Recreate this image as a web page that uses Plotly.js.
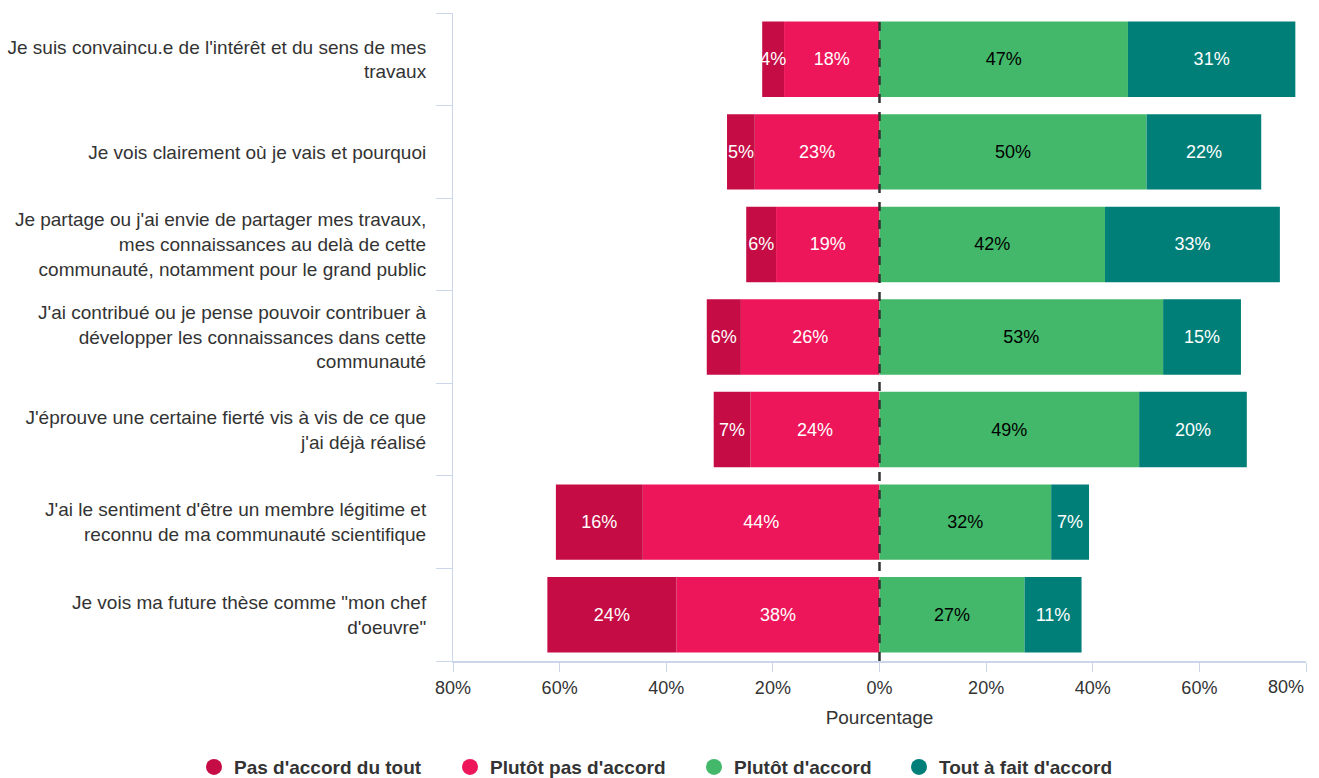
<!DOCTYPE html>
<html>
<head>
<meta charset="utf-8">
<script src="https://cdn.plot.ly/plotly-3.0.1.min.js"></script>
<style>html,body{margin:0;padding:0;background:#fff;}#chart{width:1319px;height:778px;}</style>
</head>
<body>
<div id="chart"></div>
<script>
const categories = [
  "Je suis convaincu.e de l'intérêt et du sens de mes<br>travaux",
  "Je vois clairement où je vais et pourquoi",
  "Je partage ou j'ai envie de partager mes travaux,<br>mes connaissances au delà de cette<br>communauté, notamment pour le grand public",
  "J'ai contribué ou je pense pouvoir contribuer à<br>développer les connaissances dans cette<br>communauté",
  "J'éprouve une certaine fierté vis à vis de ce que<br>j'ai déjà réalisé",
  "J'ai le sentiment d'être un membre légitime et<br>reconnu de ma communauté scientifique",
  "Je vois ma future thèse comme \"mon chef<br>d'oeuvre\""
];
const seriesNames = ["Pas d'accord du tout", "Plutôt pas d'accord", "Plutôt d'accord", "Tout à fait d'accord"];
const pasDuTout   = [4.1, 5.2, 5.6, 6.4, 6.9, 16.3, 24.2];
const plutotPas   = [17.9, 23.4, 19.4, 26.0, 24.2, 44.4, 38.1];
const plutotOui   = [46.6, 50.1, 42.3, 53.2, 48.7, 32.2, 27.2];
const toutAFait   = [31.4, 21.5, 32.8, 14.6, 20.2, 7.1, 10.7];
const tickValues  = [-80, -60, -40, -20, 0, 20, 40, 60, 80];
const tickLabels  = tickValues.map(v => Math.abs(v) + "%");
const colors = ["#c50c44", "#ee165a", "#43b86a", "#007f78"];
const textColors = ["#ffffff", "#ffffff", "#000000", "#ffffff"];

const font = "Liberation Sans, Arial, sans-serif";
const pct = a => a.map(v => Math.round(v) + "%");

function barTrace(vals, idx, negative) {
  return {
    type: "bar", orientation: "h",
    y: categories,
    x: vals.map(v => negative ? -v : v),
    name: seriesNames[idx],
    marker: {color: colors[idx], line: {width: 0}},
    text: pct(vals),
    textposition: "inside",
    insidetextanchor: "middle",
    constraintext: "none",
    textangle: 0,
    insidetextfont: {family: font, size: 18, color: textColors[idx]},
    showlegend: false,
    hoverinfo: "skip"
  };
}

const traces = [
  barTrace(plutotPas, 1, true),
  barTrace(pasDuTout, 0, true),
  barTrace(plutotOui, 2, false),
  barTrace(toutAFait, 3, false)
];
const legendIds = ["legend", "legend2", "legend3", "legend4"];
seriesNames.forEach((n, i) => {
  traces.push({type: "scatter", mode: "markers", x: [null], y: [null],
    name: n, legend: legendIds[i],
    marker: {symbol: "circle", size: 18, color: colors[i]}, showlegend: true, hoverinfo: "skip"});
});
traces.push({type: "scatter", mode: "markers", x: [null], y: [null], yaxis: "y2", showlegend: false, hoverinfo: "skip"});

const boundaries = categories.map((c, i) => i - 0.5).concat([categories.length - 0.5]);
const lastIdx = tickLabels.length - 1;
const shownTickLabels = tickLabels.map((t, i) => i === lastIdx ? "" : t);

// legend item left positions (container fraction), one legend per item
const legendX = [194, 450, 694, 899].map(px => px / 1319);

const layout = {
  width: 1319, height: 778,
  margin: {l: 453, r: 13, t: 13, b: 117, pad: 0},
  paper_bgcolor: "#ffffff", plot_bgcolor: "#ffffff",
  barmode: "relative",
  bargap: 0.185,
  font: {family: font, size: 18, color: "#333333"},
  xaxis: {
    range: [-80, 80],
    tickvals: tickValues, ticktext: shownTickLabels,
    showgrid: false, zeroline: false,
    showline: true, linecolor: "#ccd6eb", linewidth: 2,
    ticks: "outside", ticklen: 9, tickwidth: 1, tickcolor: "#ccd6eb",
    tickfont: {family: font, size: 18, color: "#333333"},
    title: {text: "Pourcentage", font: {family: font, size: 19, color: "#333333"}, standoff: 14},
    fixedrange: true
  },
  yaxis: {
    type: "category",
    categoryorder: "array", categoryarray: categories,
    range: [categories.length - 0.5, -0.5],
    showgrid: false, zeroline: false,
    showline: true, linecolor: "#ccd6eb", linewidth: 1,
    ticks: "", ticklabelstandoff: 22,
    tickfont: {family: font, size: 19, color: "#333333"},
    fixedrange: true
  },
  yaxis2: {
    overlaying: "y", anchor: "x", side: "left",
    range: [categories.length - 0.5, -0.5],
    tickvals: boundaries,
    showticklabels: false,
    ticks: "outside", ticklen: 16, tickwidth: 1, tickcolor: "#ccd6eb",
    showgrid: false, zeroline: false, showline: false,
    fixedrange: true
  },
  annotations: [{
    x: tickValues[lastIdx], xref: "x", xanchor: "right",
    y: 0, yref: "paper", yanchor: "middle", yshift: -26,
    text: tickLabels[lastIdx], showarrow: false,
    font: {family: font, size: 18, color: "#333333"}
  }],
  shapes: [{
    type: "line", xref: "x", yref: "paper",
    x0: 0, x1: 0, y0: 0, y1: 1,
    line: {color: "#333333", width: 2.5, dash: "dash"},
    layer: "above"
  }],
  showlegend: true,
  hovermode: false
};
legendIds.forEach((id, i) => {
  layout[id] = {
    orientation: "h",
    xref: "container", yref: "container",
    x: legendX[i], xanchor: "left",
    y: 0.014, yanchor: "middle",
    font: {family: font, size: 19, color: "#333333", weight: "bold"},
    itemclick: false, itemdoubleclick: false
  };
});

Plotly.newPlot("chart", traces, layout, {displayModeBar: false, staticPlot: true});
</script>
</body>
</html>
